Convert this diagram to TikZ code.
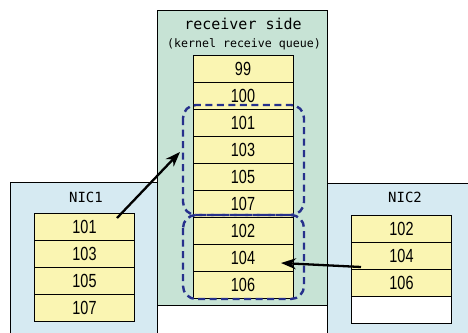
\documentclass[tikz,border=0pt]{standalone}
\usepackage{fontspec}
\usetikzlibrary{arrows.meta}
\newfontfamily\gothfont{DejaVu Sans Mono}
\newfontfamily\numfont[FakeStretch=0.76]{Liberation Sans}
\definecolor{recvgreen}{RGB}{199,227,213}
\definecolor{nicblue}{RGB}{214,234,242}
\definecolor{cellyellow}{RGB}{250,245,178}
\definecolor{groupblue}{RGB}{38,48,140}
\tikzset{
  cell/.style={draw, line width=1pt, fill=cellyellow, minimum width=100pt,
    minimum height=27pt, inner sep=0pt, font=\numfont\fontsize{19}{19}\selectfont},
  group/.style={draw=groupblue, line width=2.4pt, dash pattern=on 7pt off 4.5pt,
    rounded corners=13pt},
  move/.style={line width=2.3pt, -{Stealth[length=15pt,width=11pt]}}
}
\begin{document}
\begin{tikzpicture}[x=1pt, y=-1pt]
  \useasboundingbox (0,0) rectangle (468,332);
  \clip (0,0) rectangle (468,332);

  % network cards
  \draw[fill=nicblue, line width=0.8pt] (10,182) rectangle (157,336);
  \draw[fill=nicblue, line width=0.8pt] (327,183) rectangle (472,336);
  % receiving host
  \draw[fill=recvgreen, line width=0.8pt] (157,10) rectangle (327,305);

  \node[font=\gothfont\fontsize{15}{15}\selectfont] (title) at (243,24) {receiver side};
  \node[font=\gothfont\fontsize{11.6}{12}\selectfont] (subtitle) at (244,44) {(kernel receive queue)};
  \node[font=\gothfont\fontsize{14}{14}\selectfont] (nic1) at (86,197) {NIC1};
  \node[font=\gothfont\fontsize{14}{14}\selectfont] (nic2) at (405,197) {NIC2};

  % kernel queue
  \foreach \v [count=\n from 0] in {99,100,101,103,105,107,102,104,106}
    \node[cell] (r\v) at (243,{68.5+27*\n}) {\v};
  % NIC1 buffer
  \foreach \v [count=\n from 0] in {101,103,105,107}
    \node[cell] (a\v) at (84.5,{226.5+27*\n}) {\v};
  % NIC2 buffer
  \foreach \v [count=\n from 0] in {102,104,106}
    \node[cell] (b\v) at (401.5,{228.5+27*\n}) {\v};
  \node[cell, fill=white] (bfree) at (401.5,309.5) {};

  % segments arriving per card
  \draw[group] (183,105) rectangle (304,215);
  \draw[group] (183,215) rectangle (304,299);

  \coordinate (from1) at (117,218);
  \coordinate (to1) at (180,152);
  \coordinate (from2) at (361,267);
  \coordinate (to2) at (281,263);
  \draw[move] (from1) -- (to1);
  \draw[move] (from2) -- (to2);
\end{tikzpicture}
\end{document}
